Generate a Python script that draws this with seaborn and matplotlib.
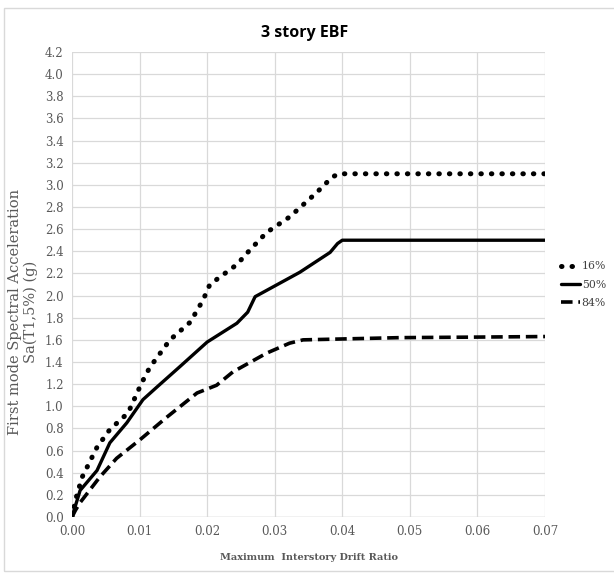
import matplotlib
matplotlib.use("Agg")
import matplotlib.pyplot as plt
import seaborn as sns
import pandas as pd
from matplotlib.patches import Rectangle

# ---- data ----
x16 = [0.0, 0.0005, 0.0015, 0.0037, 0.0056, 0.0083, 0.0103, 0.0115, 0.0145, 0.0175,
       0.0194, 0.0204, 0.0244, 0.0263, 0.0288, 0.0322, 0.0362, 0.0385, 0.0395, 0.05, 0.06, 0.07]
y16 = [0.0, 0.15, 0.36, 0.63, 0.79, 0.94, 1.21, 1.35, 1.60, 1.76,
       1.96, 2.10, 2.28, 2.41, 2.57, 2.71, 2.93, 3.07, 3.10, 3.10, 3.10, 3.10]

x50 = [0.0, 0.0005, 0.0012, 0.0037, 0.0056, 0.0081, 0.0105, 0.0125, 0.016, 0.020,
       0.0244, 0.026, 0.0271, 0.0283, 0.0337, 0.0382, 0.0393, 0.040, 0.05, 0.06, 0.07]
y50 = [0.0, 0.10, 0.24, 0.42, 0.67, 0.85, 1.06, 1.17, 1.36, 1.58,
       1.75, 1.85, 1.99, 2.03, 2.21, 2.39, 2.47, 2.50, 2.50, 2.50, 2.50]

x84 = [0.0, 0.0005, 0.0012, 0.0041, 0.0066, 0.0101, 0.0140, 0.0185, 0.0214, 0.0238,
       0.0288, 0.0322, 0.0342, 0.0485, 0.06, 0.07]
y84 = [0.0, 0.06, 0.13, 0.36, 0.53, 0.70, 0.90, 1.12, 1.19, 1.31,
       1.48, 1.57, 1.60, 1.62, 1.625, 1.63]

labels = ["16%", "50%", "84%"]
x_ticks = [0.00, 0.01, 0.02, 0.03, 0.04, 0.05, 0.06, 0.07]
y_ticks = [round(0.2 * i, 1) for i in range(22)]

title = "3 story EBF"
xlabel = "Maximum  Interstory Drift Ratio"
ylabel = "First mode Spectral Acceleration\nSa(T1,5%) (g)"

# ---- plotting ----
sns.set_theme(style="white")
plt.rcParams["font.family"] = ["DejaVu Sans"]

fig = plt.figure(figsize=(6.14, 5.73), dpi=100)
ax = fig.add_axes([72 / 614, 1 - 517 / 573, (545 - 72) / 614, (517 - 52) / 573])

series = [
    (x16, y16, labels[0], dict(linestyle=(0, (0.1, 2.0)), linewidth=3.6, dash_capstyle="round")),
    (x50, y50, labels[1], dict(linestyle="-", linewidth=2.4)),
    (x84, y84, labels[2], dict(linestyle=(0, (3.2, 1.6)), linewidth=2.6)),
]
for xs, ys, lab, st in series:
    df = pd.DataFrame({"x": xs, "y": ys})
    sns.lineplot(data=df, x="x", y="y", ax=ax, color="black", sort=False,
                 label=lab, **st)

ax.set_xlim(0, 0.07)
ax.set_ylim(0, 4.2)
ax.set_xticks(x_ticks)
ax.set_yticks(y_ticks)
ax.set_xticklabels([f"{v:.2f}" for v in x_ticks])
ax.set_yticklabels([f"{v:.1f}" for v in y_ticks])
ax.grid(True, color="#d9d9d9", linewidth=0.9)
for s in ax.spines.values():
    s.set_visible(False)
ax.axhline(0, color="#d0d0d0", linewidth=1.0, zorder=0)
ax.tick_params(axis="both", length=0, pad=6, labelsize=9, labelcolor="#595959")
for t in ax.get_xticklabels() + ax.get_yticklabels():
    t.set_family("DejaVu Serif")
    t.set_fontsize(8.5)

ax.set_xlabel(xlabel, family="DejaVu Serif", fontsize=7, color="#595959",
              fontweight="bold")
ax.xaxis.set_label_coords(0.5, -(553 - 517) / 465)
ax.set_ylabel(ylabel, family="DejaVu Serif", fontsize=10.5, color="#595959",
              linespacing=1.15)
ax.yaxis.set_label_coords(-(72 - 38) / 473, (517 - 312) / 465)
fig.text(305 / 614, 1 - 33 / 573, title, ha="center", va="center",
         fontsize=11.5, fontweight="bold", family="Open Sans", color="black")

leg = ax.legend(loc="center left", bbox_to_anchor=(1.025, 0.5), frameon=False,
                handlelength=1.7, handletextpad=0.2, labelspacing=0.75,
                borderaxespad=0.0,
                prop={"family": "DejaVu Serif", "size": 7.8})
for t in leg.get_texts():
    t.set_color("#404040")

fig.patches.append(Rectangle((4 / 614, 2 / 573), 1.2, 1 - 10 / 573,
                             transform=fig.transFigure, fill=False,
                             edgecolor="#d9d9d9", linewidth=1.0))

fig.savefig("out.png", dpi=100, facecolor="white")
